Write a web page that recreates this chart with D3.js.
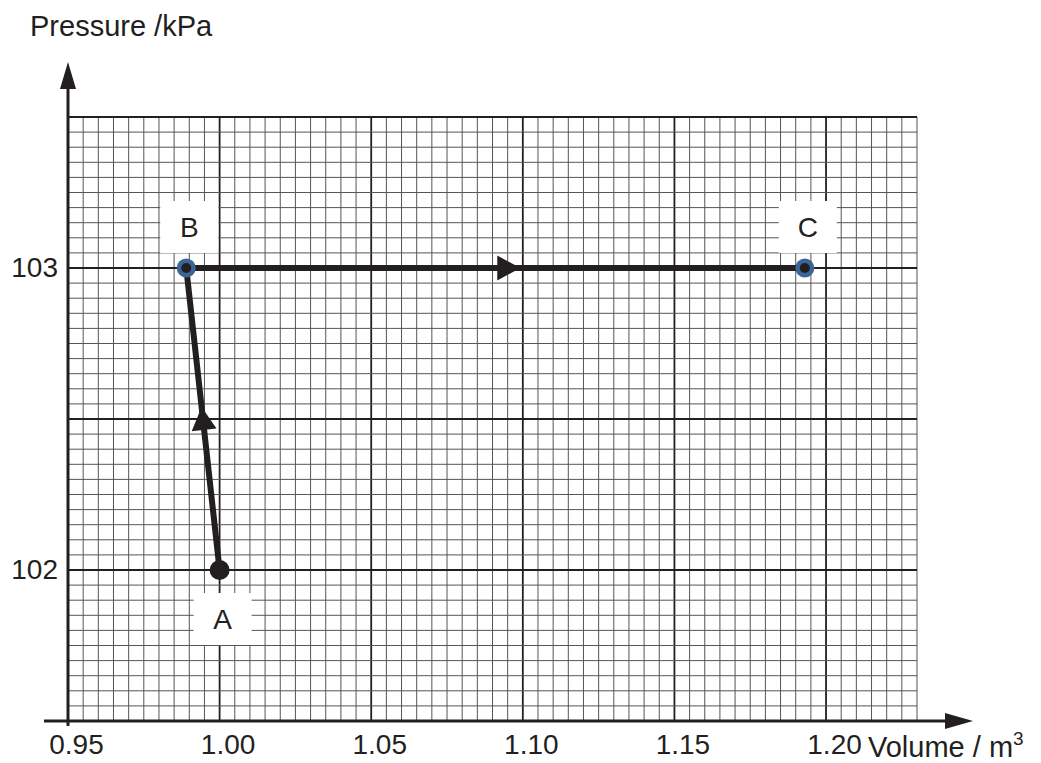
<!DOCTYPE html>
<html>
<head>
<meta charset="utf-8">
<style>
body { margin: 0; background: #fff; }
svg { display: block; font-family: "Liberation Sans", Arial, sans-serif; }
.tick text { font-size: 28px; fill: #231f20; }
.lbl { font-size: 29px; fill: #231f20; }
.pt { font-size: 28px; fill: #231f20; }
</style>
</head>
<body>

<svg id="chart" width="1041" height="763"></svg>

<script src="https://d3js.org/d3.v7.min.js"></script>
<script>

var volumeTicks = [0.95, 1.00, 1.05, 1.10, 1.15, 1.20];
var pressureTicks = [102, 103];

var pointNames = ["A", "B", "C"];
var pointVolumes = [1.000, 0.989, 1.193];
var pointPressures = [102, 103, 103];

var svg = d3.select("#chart");
var ink = "#231f20";

var x = d3.scaleLinear().domain([0.95, 1.23]).range([68, 917]);
var y = d3.scaleLinear().domain([101.5, 103.5]).range([721, 117]);

// graph paper
var grid = svg.append("g");
var xs = d3.range(0, 57).map(function(i) { return 0.95 + i * 0.005; });
var ys = d3.range(0, 41).map(function(i) { return 101.5 + i * 0.05; });

grid.selectAll(".vx").data(xs).enter().append("line")
    .attr("x1", function(d) { return x(d); })
    .attr("x2", function(d) { return x(d); })
    .attr("y1", y(101.5)).attr("y2", y(103.5))
    .attr("stroke", function(d, i) { return i % 10 == 0 ? ink : "#555"; })
    .attr("stroke-width", function(d, i) { return i % 10 == 0 ? 1.8 : 1; });

grid.selectAll(".hy").data(ys).enter().append("line")
    .attr("y1", function(d) { return y(d); })
    .attr("y2", function(d) { return y(d); })
    .attr("x1", x(0.95)).attr("x2", x(1.23))
    .attr("stroke", function(d, i) { return i % 10 == 0 ? ink : "#555"; })
    .attr("stroke-width", function(d, i) { return i % 10 == 0 ? 1.8 : 1; });

// axes with arrows
svg.append("line")
    .attr("x1", 44).attr("x2", 950)
    .attr("y1", y(101.5)).attr("y2", y(101.5))
    .attr("stroke", ink).attr("stroke-width", 3);
svg.append("path")
    .attr("d", "M945," + (y(101.5) - 8) + "L973," + y(101.5) + "L945," + (y(101.5) + 8) + "Z")
    .attr("fill", ink);

svg.append("line")
    .attr("x1", x(0.95)).attr("x2", x(0.95))
    .attr("y1", 726).attr("y2", 85)
    .attr("stroke", ink).attr("stroke-width", 3);
svg.append("path")
    .attr("d", "M" + (x(0.95) - 8) + ",89L" + x(0.95) + ",62L" + (x(0.95) + 8) + ",89Z")
    .attr("fill", ink);

// tick labels
svg.append("g")
    .attr("transform", "translate(8," + y(101.5) + ")")
    .call(d3.axisBottom(x).tickValues(volumeTicks).tickSize(0).tickPadding(13)
        .tickFormat(d3.format(".2f")))
    .call(function(g) { g.select(".domain").remove(); })
    .selectAll("text").attr("font-family", null).attr("font-size", null);

svg.append("g")
    .attr("transform", "translate(" + (x(0.95) - 10) + ",0)")
    .call(d3.axisLeft(y).tickValues(pressureTicks).tickSize(0).tickPadding(0)
        .tickFormat(d3.format("d")))
    .call(function(g) { g.select(".domain").remove(); })
    .selectAll("text").attr("font-family", null).attr("font-size", null);

// axis titles
svg.append("text").attr("class", "lbl")
    .attr("x", 30).attr("y", 36)
    .text("Pressure /kPa");

var vt = svg.append("text").attr("class", "lbl")
    .attr("x", 868).attr("y", 757);
vt.append("tspan").text("Volume / m");
vt.append("tspan").attr("font-size", 19).attr("dy", -12).text("3");

// process path
var pts = pointNames.map(function(n, i) {
    return {name: n, v: pointVolumes[i], p: pointPressures[i]};
});

var line = d3.line()
    .x(function(d) { return x(d.v); })
    .y(function(d) { return y(d.p); });

svg.append("path")
    .datum(pts)
    .attr("d", line)
    .attr("fill", "none")
    .attr("stroke", ink)
    .attr("stroke-width", 6)
    .attr("stroke-linejoin", "miter");

// direction arrows along each segment
for (var i = 0; i < pts.length - 1; i++) {
    var x0 = x(pts[i].v), y0 = y(pts[i].p),
        x1 = x(pts[i + 1].v), y1 = y(pts[i + 1].p);
    var tx = x0 + (x1 - x0) * 0.54, ty = y0 + (y1 - y0) * 0.54;
    var ang = Math.atan2(y1 - y0, x1 - x0) * 180 / Math.PI;
    svg.append("path")
        .attr("d", "M0,0L-23,-12.5L-23,12.5Z")
        .attr("transform", "translate(" + tx + "," + ty + ") rotate(" + ang + ")")
        .attr("fill", ink);
}

// point labels on white boxes
var lab = svg.selectAll(".pl").data(pts).enter().append("g")
    .attr("transform", function(d) {
        var dy = d.name == "A" ? 49 : -41;
        return "translate(" + (x(d.v) + 3) + "," + (y(d.p) + dy) + ")";
    });
lab.append("rect")
    .attr("x", -29).attr("y", -26).attr("width", 58).attr("height", 52)
    .attr("fill", "#fff");
lab.append("text").attr("class", "pt")
    .attr("text-anchor", "middle").attr("dy", "0.36em")
    .text(function(d) { return d.name; });

// markers
svg.selectAll(".mk").data(pts).enter().append("circle")
    .attr("cx", function(d) { return x(d.v); })
    .attr("cy", function(d) { return y(d.p); })
    .attr("r", function(d) { return d.name == "A" ? 10 : 9.5; })
    .attr("fill", function(d) { return d.name == "A" ? ink : "#3b6597"; });

svg.selectAll(".mkc").data(pts.filter(function(d) { return d.name != "A"; }))
    .enter().append("circle")
    .attr("cx", function(d) { return x(d.v); })
    .attr("cy", function(d) { return y(d.p); })
    .attr("r", 5)
    .attr("fill", ink);

</script>
</body>
</html>
